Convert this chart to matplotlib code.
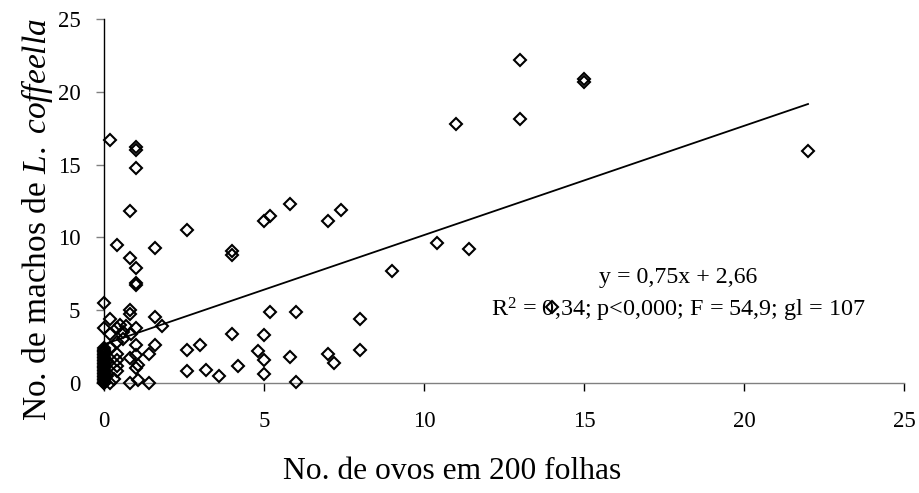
import matplotlib
matplotlib.use("Agg")
import matplotlib.pyplot as plt
import numpy as np

plt.rcParams['font.family'] = ['Liberation Serif', 'DejaVu Serif']
plt.rcParams['mathtext.fontset'] = 'custom'
plt.rcParams['mathtext.rm'] = 'Liberation Serif'
plt.rcParams['mathtext.it'] = 'Liberation Serif:italic'

# Data: number of eggs in 200 leaves (x) vs males of L. coffeella (y)
eggs = [13, 15, 15, 11, 13, 22, 11.4, 10.4, 14,
        5.8, 5, 5.2, 7, 7.4, 4, 4, 9, 5.2, 6, 8,
        3, 4, 5, 4.8, 5, 5.8, 7, 7.2, 8, 3.2, 3.6, 4.2, 5, 6,
        2.6, 2.6, 2.6,
        0.2, 1, 1, 1, 0.8, 0.4, 1.6, 0.8, 1, 1, 1,
        0, 0.8, 0.8, 1.6, 0.2, 1.8, 0, 0.5, 0.7, 0.4, 1,
        0.85, 0.6, 0.4, 1, 1.6, 1.4, 0.4, 1, 0.8, 0.4, 1.05,
        1, 0.4, 0.8, 1.05, 1.4, 0.2, 0.2, 0.6, 0.4, 0.3, 0.2,
        0, 0, 0, 0, 0, 0, 0, 0, 0, 0, 0, 0, 0, 0,
        0, 0, 0, 0, 0, 0, 0, 0, 0, 0, 0, 0, 0.1, 0.1]
males = [22.2, 20.7, 20.9, 17.8, 18.1, 15.9, 9.2, 9.6, 5.2,
         12.3, 11.1, 11.5, 11.1, 11.9, 9.1, 8.8, 7.7, 4.9, 4.9, 4.4,
         2.6, 3.4, 3.3, 2.2, 1.6, 1.8, 2.0, 1.4, 2.3, 0.9, 0.5, 1.2, 0.6, 0.1,
         2.3, 0.8, 10.5,
         16.7, 16.2, 16.0, 14.8, 11.8, 9.5, 9.3, 8.6, 7.9, 6.7, 6.9,
         5.5, 5.0, 4.75, 4.5, 4.4, 3.9, 3.8, 4.0, 3.9, 3.8, 3.8,
         3.35, 3.5, 2.8, 2.6, 2.6, 2.0, 2.0, 1.9, 1.7, 1.6, 1.25,
         1.0, 0.8, 0.0, 0.2, 0.0, 0.0, 3.4, 3.0, 1.2, 0.3, 2.4,
         0.0, 0.0, 0.1, 0.2, 0.3, 0.4, 0.5, 0.6, 0.7, 0.8, 0.9, 1.0, 1.1, 1.2,
         1.3, 1.4, 1.5, 1.6, 1.7, 1.8, 1.9, 2.0, 2.1, 2.2, 2.3, 2.4, 0.5, 1.5]

# Regression line reported on the chart
slope = 0.75
intercept = 2.66
fit_x = [0, 22]

x_ticks = [0, 5, 10, 15, 20, 25]
y_ticks = [0, 5, 10, 15, 20, 25]

fig = plt.figure(figsize=(9.19, 4.93), dpi=100)
ax = fig.add_axes([0.1132, 0.2231, 0.8705, 0.7384])

ax.plot(eggs, males, linestyle='none', marker='D', markersize=6.2,
        markerfacecolor='none', markeredgecolor='black', markeredgewidth=1.5,
        clip_on=False, zorder=3)
fx = np.array(fit_x, dtype=float)
ax.plot(fx, slope * fx + intercept, color='black', linewidth=1.3, zorder=2)

ax.set_xlim(0, 25)
ax.set_ylim(0, 25)
ax.set_xticks(x_ticks)
ax.set_yticks(y_ticks)
ax.set_xticklabels([str(t) for t in x_ticks])
ax.set_yticklabels([str(t) for t in y_ticks])

for s in ['top', 'right']:
    ax.spines[s].set_visible(False)
ax.spines['left'].set_color('black')
ax.spines['left'].set_linewidth(1.0)
ax.spines['bottom'].set_color('#808080')
ax.spines['bottom'].set_linewidth(1.0)

ax.tick_params(axis='x', direction='out', length=6, width=1.0, color='black',
               labelsize=16.5, pad=14)
ax.tick_params(axis='y', direction='out', length=6, width=1.0, color='#808080',
               labelsize=16.5, pad=11)

ax.set_xlabel('No. de ovos em 200 folhas', fontsize=22.7)
ax.xaxis.set_label_coords(0.435, -0.204)
ax.set_ylabel(r'No. de machos de $\mathit{L.\ coffeella}$', fontsize=24)
ax.yaxis.set_label_coords(-0.061, 0.448)

ax.text(17.94, 7.28, 'y = 0,75x + 2,66', fontsize=17.2, ha='center', va='center')
ax.text(17.94, 5.0, r'R$^{2}$ = 0,34; p<0,000; F = 54,9; gl = 107', fontsize=17.4,
        ha='center', va='center')

fig.savefig('out.png', dpi=100)
